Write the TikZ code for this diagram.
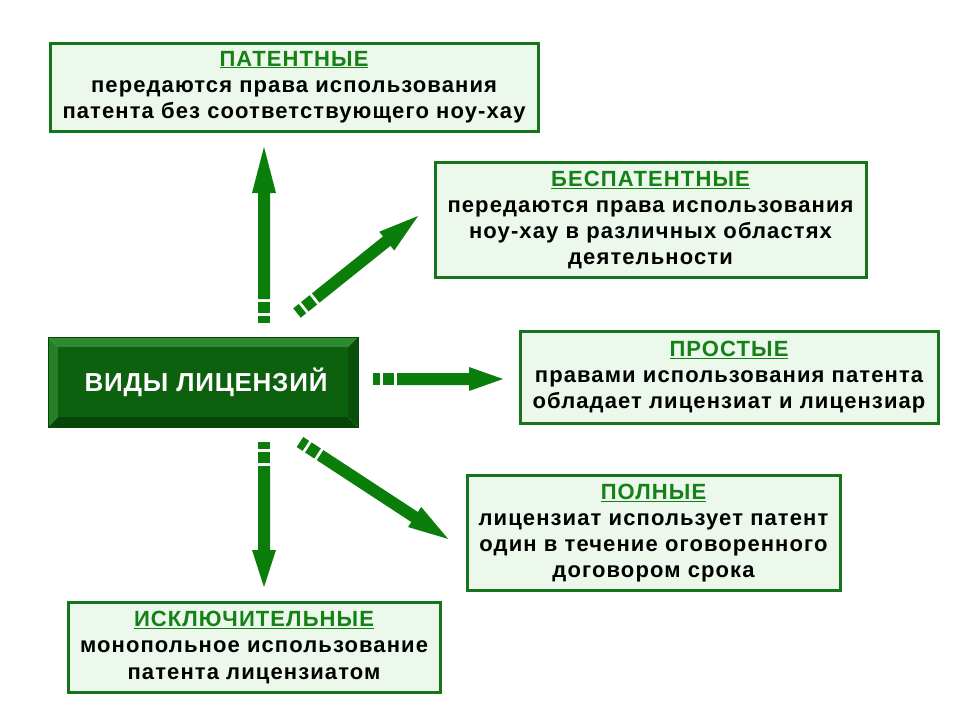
\documentclass[tikz,border=0pt]{standalone}
\usepackage{fontspec}
\setmainfont{Liberation Sans}
\newfontfamily\bodyfont[LetterSpace=5]{Liberation Sans}
\newfontfamily\centfont[LetterSpace=3]{Liberation Sans}
\definecolor{boxfill}{HTML}{EBF8EB}
\definecolor{boxline}{HTML}{16741A}
\definecolor{titlegreen}{HTML}{158015}
\definecolor{arrgreen}{HTML}{0B7D0B}
\definecolor{cfill}{HTML}{0D600D}
\definecolor{ctop}{HTML}{2F8A2F}
\definecolor{cleft}{HTML}{267E26}
\definecolor{cright}{HTML}{0A4F0A}
\definecolor{cbottom}{HTML}{084508}
\newcommand\fatarr[4]{%
\begin{scope}[shift={#1}, rotate=#2]
\fill[arrgreen] (0,-6) rectangle (7,6);
\fill[arrgreen] (10,-6) rectangle (21,6);
\fill[arrgreen] (24,-6) -- ({#3-#4},-6) -- ({#3-#4},-12) -- (#3,0) -- ({#3-#4},12) -- ({#3-#4},6) -- (24,6) -- cycle;
\end{scope}}
\newcommand\ttl[1]{{\color{titlegreen}\underline{#1}}}
\begin{document}
\begin{tikzpicture}[x=1pt,y=-1pt,
  box/.style={draw=boxline, line width=3pt, fill=boxfill, align=center,
    font=\bodyfont\fontsize{22}{26}\selectfont\bfseries, inner sep=0pt}]
\useasboundingbox[fill=white] (0,0) rectangle (960,720);
% central box with bevel
\fill[ctop] (48,337) -- (358,337) -- (348,347) -- (58,347) -- cycle;
\fill[cleft] (48,337) -- (58,347) -- (58,417) -- (48,427) -- cycle;
\fill[cright] (358,337) -- (358,427) -- (348,417) -- (348,347) -- cycle;
\fill[cbottom] (48,427) -- (358,427) -- (348,417) -- (58,417) -- cycle;
\fill[cfill] (58,347) rectangle (348,417);
\node[inner sep=0pt, text=white, font=\centfont\fontsize{26}{30}\selectfont\bfseries]
  (vid) at (206,382) {ВИДЫ ЛИЦЕНЗИЙ};
\draw[cbottom, line width=1pt] (48,337) rectangle (358,427);
% boxes
\node[box, minimum width=488pt, minimum height=88pt] (pat) at (294,87)
  {\ttl{ПАТЕНТНЫЕ}\\передаются права использования\\патента без соответствующего ноу-хау};
\node[box, minimum width=431pt, minimum height=115pt] (bespat) at (650.5,220)
  {\ttl{БЕСПАТЕНТНЫЕ}\\передаются права использования\\ноу-хау в различных областях\\деятельности};
\node[box, minimum width=418pt, minimum height=92pt] (prost) at (729,377)
  {\ttl{ПРОСТЫЕ}\\правами использования патента\\обладает лицензиат и лицензиар};
\node[box, minimum width=373pt, minimum height=115pt] (poln) at (653.5,533)
  {\ttl{ПОЛНЫЕ}\\лицензиат использует патент\\один в течение оговоренного\\договором срока};
\node[box, minimum width=372pt, minimum height=90pt] (iskl) at (254,647.5)
  {\ttl{ИСКЛЮЧИТЕЛЬНЫЕ}\\монопольное использование\\патента лицензиатом};
% arrows
\fatarr{(264,323)}{90}{176}{46}
\fatarr{(297,313)}{38.7}{155}{40}
\fatarr{(373,379)}{0}{130}{34}
\fatarr{(300,442)}{-33.2}{177}{40}
\fatarr{(264,442)}{-90}{145}{37}
\end{tikzpicture}
\end{document}
